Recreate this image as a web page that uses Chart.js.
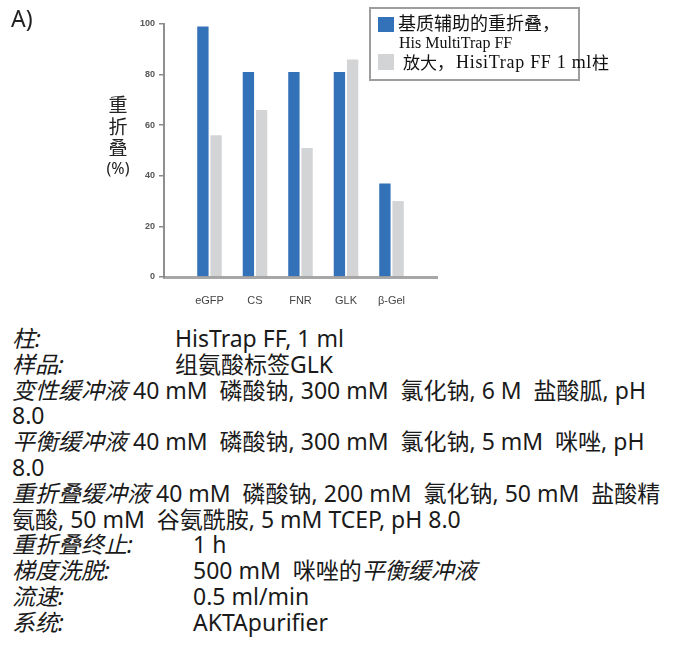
<!DOCTYPE html>
<html>
<head>
<meta charset="utf-8">
<script src="https://cdn.jsdelivr.net/npm/chart.js@4.4.1/dist/chart.umd.min.js"></script>
<style>
  html, body { margin: 0; padding: 0; background: #fff; }
  #page { position: relative; width: 678px; height: 646px; overflow: hidden; }
  #chartBox { position: absolute; left: 0; top: 0; width: 678px; height: 312px; }
  #panel { position: absolute; left: 11px; top: 2px; font: 23px "Noto Sans", sans-serif; color: #222; }
  #notes { position: absolute; left: 12px; top: 326px; font-family: "Noto Sans", "Noto Sans CJK SC", sans-serif;
           font-size: 23px; color: #1a1a1a; }
  #notes .row { height: 25.8px; line-height: 25.8px; white-space: pre; position: relative; }
  #notes i { font-style: italic; }
  #notes .v1 { position: absolute; left: 163px; top: 0; }
  #notes .v2 { position: absolute; left: 181px; top: 0; }
</style>
</head>
<body>
<div id="page">
  <div id="chartBox"><canvas id="chart"></canvas></div>
  <div id="panel">A)</div>
  <div id="notes">
    <div class="row"><i>柱:</i><span class="v1">HisTrap FF, 1 ml</span></div>
    <div class="row"><i>样品:</i><span class="v1">组氨酸标签GLK</span></div>
    <div class="row"><i>变性缓冲液</i> 40 mM  磷酸钠, 300 mM  氯化钠, 6 M  盐酸胍, pH</div>
    <div class="row">8.0</div>
    <div class="row"><i>平衡缓冲液</i> 40 mM  磷酸钠, 300 mM  氯化钠, 5 mM  咪唑, pH</div>
    <div class="row">8.0</div>
    <div class="row"><i>重折叠缓冲液</i> 40 mM  磷酸钠, 200 mM  氯化钠, 50 mM  盐酸精</div>
    <div class="row">氨酸, 50 mM  谷氨酰胺, 5 mM TCEP, pH 8.0</div>
    <div class="row"><i>重折叠终止:</i><span class="v2">1 h</span></div>
    <div class="row"><i>梯度洗脱:</i><span class="v2">500 mM  咪唑的<i>平衡缓冲液</i></span></div>
    <div class="row"><i>流速:</i><span class="v2">0.5 ml/min</span></div>
    <div class="row"><i>系统:</i><span class="v2">AKTApurifier</span></div>
  </div>
</div>
<script>
// Proteins tested
const categories = ['eGFP', 'CS', 'FNR', 'GLK', 'β-Gel'];
// Refolding yield (%) per method
const matrixAssisted = [99, 81, 81, 81, 37];
const scaleUp = [56, 66, 51, 86, 30];
// Legend text, one array of lines (or runs) per series
const legendLines = [
  ['基质辅助的重折叠，', 'His MultiTrap FF'],
  ['放大，', 'HisiTrap FF 1 ml', '柱']
];
// Stacked y-axis title
const yTitleLines = ['重', '折', '叠', '(%)'];
const yTicks = [0, 20, 40, 60, 80, 100];

const BLUE = '#3371b8';
const GREY = '#d3d4d6';

const toPoints = vals => vals.map((v, i) => ({ x: i, y: v }));

// Draws the stacked y-axis title and the boxed legend
const annotations = {
  id: 'annotations',
  afterDraw(chart) {
    const ctx = chart.ctx;
    ctx.save();
    ctx.fillStyle = '#222';
    ctx.textAlign = 'center';
    ctx.textBaseline = 'middle';
    yTitleLines.forEach((t, i) => {
      ctx.font = i < 3 ? '19px "Noto Sans CJK SC"' : '16px "Noto Sans", sans-serif';
      ctx.fillText(t, 118, 105 + i * 21.5);
    });

    ctx.strokeStyle = '#9d9d9d';
    ctx.lineWidth = 2;
    ctx.strokeRect(370, 8, 209, 72);
    ctx.fillStyle = BLUE;
    ctx.fillRect(378, 17, 16, 15);
    ctx.fillStyle = GREY;
    ctx.fillRect(378, 54, 16, 16);
    ctx.fillStyle = '#111';
    ctx.textAlign = 'left';
    ctx.font = '18px "Noto Sans CJK SC"';
    ctx.fillText(legendLines[0][0], 398, 23);
    ctx.font = '16px "Liberation Serif", serif';
    ctx.fillText(legendLines[0][1], 399, 44);
    // second entry: CJK and Latin runs in their own faces
    let x = 403;
    legendLines[1].forEach((run, i) => {
      const latin = i === 1;
      ctx.font = latin ? '18px "Liberation Serif", serif' : '17px "Noto Sans CJK SC"';
      ctx.letterSpacing = latin ? '0.7px' : '0px';
      ctx.fillText(run, x, 63);
      x += ctx.measureText(run).width + (i === 0 ? 2 : 0);
    });
    ctx.restore();
  }
};

new Chart(document.getElementById('chart'), {
  type: 'bar',
  data: {
    datasets: [
      { label: legendLines[0].join(''), data: toPoints(matrixAssisted), backgroundColor: BLUE,
        categoryPercentage: 0.58, barPercentage: 0.86 },
      { label: legendLines[1].join(''), data: toPoints(scaleUp), backgroundColor: GREY,
        categoryPercentage: 0.58, barPercentage: 0.86 }
    ]
  },
  options: {
    responsive: true,
    maintainAspectRatio: false,
    animation: false,
    layout: { padding: { left: 124, right: 241, top: 24, bottom: 5 } },
    plugins: { legend: { display: false }, tooltip: { enabled: false } },
    scales: {
      x: {
        type: 'linear',
        min: -1,
        max: 5,
        offset: false,
        afterFit: s => { s.height = 30; },
        grid: { display: true, drawOnChartArea: false, drawTicks: false, offset: false },
        border: { display: true, color: 'rgba(120,120,120,0.65)', width: 3, z: 1 },
        ticks: {
          stepSize: 1,
          autoSkip: false,
          maxRotation: 0,
          padding: 17,
          color: '#444',
          font: { family: '"Liberation Sans", sans-serif', size: 11 },
          callback: v => (Number.isInteger(v) && categories[v] !== undefined) ? categories[v] : ''
        }
      },
      y: {
        min: 0,
        max: 100,
        afterFit: s => { s.width = 40; },
        afterBuildTicks: s => { s.ticks = yTicks.map(v => ({ value: v })); },
        grid: { drawOnChartArea: false, drawTicks: true, tickLength: 5, color: '#8a8a8a', lineWidth: 1.5 },
        border: { display: true, color: '#8f8f8f', width: 2 },
        ticks: {
          padding: 4,
          color: '#555',
          font: { family: '"Liberation Sans", sans-serif', size: 9, weight: 'bold' }
        }
      }
    }
  },
  plugins: [annotations]
});
</script>
</body>
</html>
